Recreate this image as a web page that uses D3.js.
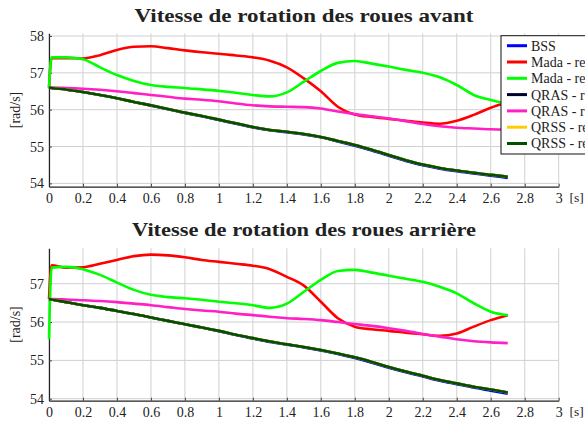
<!DOCTYPE html>
<html><head><meta charset="utf-8">
<script src="https://cdn.jsdelivr.net/npm/d3@7"></script>
<style>body{margin:0;background:#fff}svg{display:block}</style>
</head><body><svg id="c" width="585" height="421"></svg>
<script>
const time = [0,0.015,0.1,0.2,0.3,0.4,0.5,0.6,0.7,0.8,0.9,1.0,1.1,1.2,1.3,1.4,1.5,1.6,1.7,1.8,1.9,2.0,2.1,2.2,2.3,2.4,2.5,2.6,2.7];
const xTicks = [0,0.2,0.4,0.6,0.8,1,1.2,1.4,1.6,1.8,2,2.2,2.4,2.6,2.8,3];
const yTicksFront = [54,55,56,57,58];
const yTicksRear = [54,55,56,57];
const seriesNames = ["BSS","Mada - reg. 1","Mada - reg. 2","QRAS - reg. 1","QRAS - reg. 2","QRSS - reg. 1","QRSS - reg. 2"];
const seriesColors = ["#0000ff","#ff0000","#00ff00","#00002e","#ff1fc4","#ffcc00","#005000"];
const titles = ["Vitesse de rotation des roues avant","Vitesse de rotation des roues arrière"];

// Front wheels
const frontBSS   = [56.6,56.59,56.55,56.48,56.4,56.31,56.21,56.11,56.01,55.91,55.82,55.72,55.62,55.52,55.44,55.39,55.33,55.25,55.14,55.02,54.89,54.75,54.61,54.49,54.4,54.33,54.27,54.21,54.15];
const frontMada1 = [56.6,57.4,57.4,57.39,57.48,57.62,57.71,57.72,57.67,57.61,57.56,57.52,57.47,57.42,57.33,57.15,56.85,56.5,56.08,55.87,55.8,55.75,55.7,55.65,55.62,55.7,55.86,56.05,56.2];
const frontMada2 = [56.6,57.42,57.42,57.37,57.15,56.94,56.78,56.67,56.62,56.59,56.55,56.51,56.46,56.4,56.36,56.47,56.76,57.05,57.27,57.32,57.25,57.17,57.08,57.0,56.88,56.67,56.4,56.26,56.15];
const frontQRAS1 = [56.6,56.59,56.55,56.48,56.4,56.31,56.21,56.12,56.02,55.92,55.83,55.73,55.63,55.53,55.45,55.4,55.34,55.26,55.15,55.04,54.91,54.77,54.63,54.51,54.42,54.35,54.29,54.23,54.18];
const frontQRAS2 = [56.6,56.6,56.59,56.57,56.54,56.5,56.45,56.4,56.35,56.3,56.27,56.23,56.17,56.12,56.09,56.08,56.07,56.03,55.95,55.88,55.82,55.76,55.69,55.61,55.55,55.51,55.49,55.47,55.46];
const frontQRSS1 = [56.6,56.59,56.55,56.48,56.4,56.31,56.21,56.12,56.02,55.92,55.83,55.73,55.63,55.53,55.45,55.4,55.34,55.26,55.15,55.04,54.91,54.77,54.63,54.51,54.42,54.35,54.29,54.23,54.18];
const frontQRSS2 = [56.6,56.59,56.55,56.48,56.4,56.31,56.21,56.12,56.02,55.92,55.83,55.73,55.63,55.53,55.45,55.4,55.34,55.26,55.15,55.04,54.91,54.77,54.63,54.51,54.42,54.35,54.29,54.23,54.18];

// Rear wheels
const rearBSS   = [56.6,56.59,56.52,56.44,56.37,56.29,56.21,56.12,56.03,55.94,55.86,55.76,55.66,55.57,55.48,55.41,55.34,55.26,55.17,55.06,54.94,54.81,54.69,54.58,54.47,54.38,54.29,54.21,54.13];
const rearMada1 = [56.6,57.48,57.42,57.43,57.52,57.62,57.72,57.76,57.74,57.69,57.62,57.57,57.52,57.47,57.38,57.18,56.95,56.53,56.1,55.88,55.81,55.77,55.72,55.68,55.64,55.7,55.88,56.05,56.18];
const rearMada2 = [55.55,57.42,57.44,57.38,57.23,57.03,56.84,56.71,56.65,56.62,56.58,56.53,56.49,56.44,56.37,56.48,56.79,57.1,57.33,57.36,57.29,57.21,57.13,57.05,56.92,56.75,56.49,56.27,56.18];
const rearQRAS1 = [56.6,56.59,56.52,56.44,56.37,56.29,56.21,56.12,56.03,55.94,55.86,55.77,55.67,55.58,55.49,55.42,55.35,55.27,55.18,55.08,54.96,54.83,54.71,54.6,54.49,54.4,54.31,54.24,54.16];
const rearQRAS2 = [56.6,56.6,56.59,56.57,56.55,56.52,56.48,56.44,56.39,56.34,56.3,56.27,56.22,56.18,56.14,56.1,56.08,56.05,56.0,55.95,55.9,55.84,55.77,55.69,55.62,55.55,55.5,55.47,55.45];
const rearQRSS1 = [56.6,56.59,56.52,56.44,56.37,56.29,56.21,56.12,56.03,55.94,55.86,55.77,55.67,55.58,55.49,55.42,55.35,55.27,55.18,55.08,54.96,54.83,54.71,54.6,54.49,54.4,54.31,54.24,54.16];
const rearQRSS2 = [56.6,56.59,56.52,56.44,56.37,56.29,56.21,56.12,56.03,55.94,55.86,55.77,55.67,55.58,55.49,55.42,55.35,55.27,55.18,55.08,54.96,54.83,54.71,54.6,54.49,54.4,54.31,54.24,54.16];

const FONT = "Liberation Serif";
const svg = d3.select("#c");

function drawChart(cfg){
  const x = d3.scaleLinear().domain([0,3]).range([49,558.7]);
  const y = d3.scaleLinear().domain(cfg.yDomain).range([cfg.bottom, cfg.top]);
  const g = svg.append("g");
  g.selectAll(".vg").data(xTicks).join("line")
    .attr("x1",d=>x(d)).attr("x2",d=>x(d)).attr("y1",cfg.top).attr("y2",cfg.bottom)
    .attr("stroke","#d0d0d0").attr("stroke-width",1);
  g.selectAll(".hg").data(cfg.yTicks).join("line")
    .attr("x1",x(0)).attr("x2",x(3)).attr("y1",d=>y(d)).attr("y2",d=>y(d))
    .attr("stroke","#d0d0d0").attr("stroke-width",1);
  const xa = g.append("g").attr("transform",`translate(0,${cfg.bottom})`)
    .call(d3.axisBottom(x).tickValues(xTicks).tickSizeInner(-3).tickSizeOuter(0).tickPadding(6).tickFormat(d3.format("")));
  const ya = g.append("g").attr("transform",`translate(${x(0)},0)`)
    .call(d3.axisLeft(y).tickValues(cfg.yTicks).tickSizeInner(-3).tickSizeOuter(0).tickPadding(5).tickFormat(d3.format("d")));
  [xa,ya].forEach(a=>{
    a.attr("font-family",FONT).attr("font-size",14);
    a.select(".domain").attr("stroke","#222").attr("stroke-width",1.2);
    a.selectAll(".tick line").attr("stroke","#444");
    a.selectAll(".tick text").attr("font-family",FONT).attr("font-size",14).attr("fill","#222");
  });
  const line = d3.line().x((d,i)=>x(time[i])).y(d=>y(d)).curve(d3.curveMonotoneX);
  cfg.series.forEach((s,k)=>{
    g.append("path").attr("d",line(s)).attr("fill","none")
      .attr("stroke",seriesColors[k]).attr("stroke-width",2.6).attr("stroke-linejoin","round");
  });
  g.append("text").attr("x",304).attr("y",cfg.titleY).attr("text-anchor","middle")
    .attr("textLength",cfg.titleLen).attr("lengthAdjust","spacingAndGlyphs")
    .attr("font-family",FONT).attr("font-size",19).attr("font-weight","bold").attr("fill","#222").text(cfg.title);
  g.append("text").attr("transform",`translate(20,${(cfg.top+cfg.bottom)/2}) rotate(-90)`)
    .attr("text-anchor","middle").attr("font-family",FONT).attr("font-size",14).attr("fill","#222").text("[rad/s]");
  g.append("text").attr("x",569.5).attr("y",cfg.bottom+15).attr("font-family",FONT).attr("font-size",13.5).attr("fill","#222").text("[s]");
}

drawChart({title:titles[0], titleY:22, titleLen:339, top:33.3, bottom:186.7, yDomain:[53.91,58.073], yTicks:yTicksFront,
  series:[frontBSS,frontMada1,frontMada2,frontQRAS1,frontQRAS2,frontQRSS1,frontQRSS2]});
drawChart({title:titles[1], titleY:236, titleLen:344, top:248.3, bottom:400.7, yDomain:[53.948,57.924], yTicks:yTicksRear,
  series:[rearBSS,rearMada1,rearMada2,rearQRAS1,rearQRAS2,rearQRSS1,rearQRSS2]});

const lg = svg.append("g").attr("transform","translate(501,35.7)");
lg.append("rect").attr("x",0).attr("y",0).attr("width",130).attr("height",118.3)
  .attr("fill","#fff").attr("stroke","#111").attr("stroke-width",1);
seriesNames.forEach((n,i)=>{
  const yy = 10 + i*16.3;
  lg.append("line").attr("x1",6).attr("x2",26).attr("y1",yy).attr("y2",yy)
    .attr("stroke",seriesColors[i]).attr("stroke-width",3);
  lg.append("text").attr("x",30).attr("y",yy+5).attr("font-family",FONT).attr("font-size",14).attr("fill","#222").text(n);
});
</script></body></html>
